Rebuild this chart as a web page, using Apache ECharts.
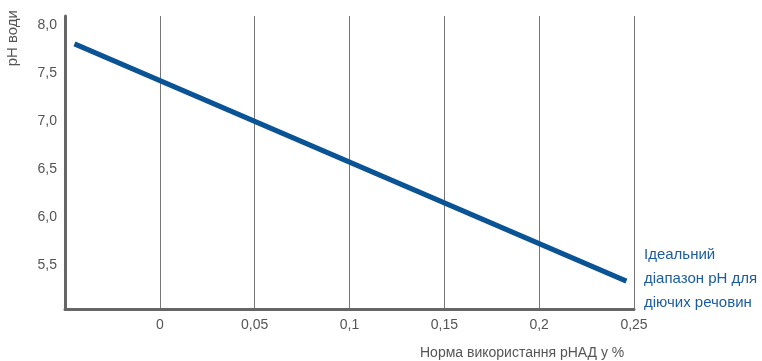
<!DOCTYPE html>
<html>
<head>
<meta charset="utf-8">
<script src="https://cdn.jsdelivr.net/npm/echarts@6/dist/echarts.min.js"></script>
<style>
html, body { margin: 0; padding: 0; background: #fff; }
#main { width: 762px; height: 361px; }
</style>
</head>
<body>
<div id="main"></div>
<script>
// дані графіка
var xValues = [-0.045, 0.246];
var phValues = [7.76, 5.29];
var xTicks = [0, 0.05, 0.1, 0.15, 0.2, 0.25];
var yTicks = [5.5, 6.0, 6.5, 7.0, 7.5, 8.0];
var noteLines = ['Ідеальний', 'діапазон pH для', 'діючих речовин'];

var myChart = echarts.init(document.getElementById('main'));

var lineData = [];
for (var i = 0; i < xValues.length; i++) {
    lineData.push([xValues[i], phValues[i]]);
}

function comma(v, digits) {
    return v.toFixed(digits).replace('.', ',');
}

var font = '"Liberation Sans", Arial, sans-serif';

var option = {
    animation: false,
    grid: { left: 65, right: 128, top: 16, bottom: 52 },
    xAxis: {
        type: 'value',
        min: -0.05,
        max: 0.25,
        interval: 0.05,
        axisLine: { onZero: false, lineStyle: { color: '#666', width: 3 } },
        axisTick: { show: false },
        splitLine: { show: true, lineStyle: { color: '#777', width: 1 } },
        axisLabel: {
            color: '#555', fontSize: 14, fontFamily: font, margin: 9,
            formatter: function (v) {
                for (var k = 0; k < xTicks.length; k++) {
                    if (Math.abs(xTicks[k] - v) < 1e-6) {
                        var s = String(Math.round(v * 100) / 100);
                        return s.replace('.', ',');
                    }
                }
                return '';
            }
        }
    },
    yAxis: {
        type: 'value',
        min: 5,
        max: 8.05,
        interval: 0.5,
        axisLine: { show: true, onZero: false, lineStyle: { color: '#666', width: 3 } },
        axisTick: { show: false },
        splitLine: { show: false },
        axisLabel: {
            color: '#555', fontSize: 14, fontFamily: font, margin: 8,
            verticalAlign: 'top', lineHeight: 8,
            formatter: function (v) {
                for (var k = 0; k < yTicks.length; k++) {
                    if (Math.abs(yTicks[k] - v) < 1e-6) return comma(v, 1);
                }
                return '';
            }
        }
    },
    graphic: [
        {
            type: 'text', left: 5, top: 10, rotation: Math.PI / 2,
            style: { text: 'рН води', fill: '#555', font: '15px ' + font }
        },
        {
            type: 'text', left: 420, top: 346,
            style: { text: 'Норма використання рНАД у %', fill: '#555', font: '14px ' + font }
        },
        {
            type: 'text', left: 644, top: 243,
            style: { text: noteLines.join('\n'), fill: '#1b5c9e', font: '15px ' + font, lineHeight: 24 }
        }
    ],
    series: [{
        type: 'line',
        data: lineData,
        symbol: 'none',
        lineStyle: { color: '#0a5394', width: 5, cap: 'butt' }
    }]
};

myChart.setOption(option);
</script>
</body>
</html>
